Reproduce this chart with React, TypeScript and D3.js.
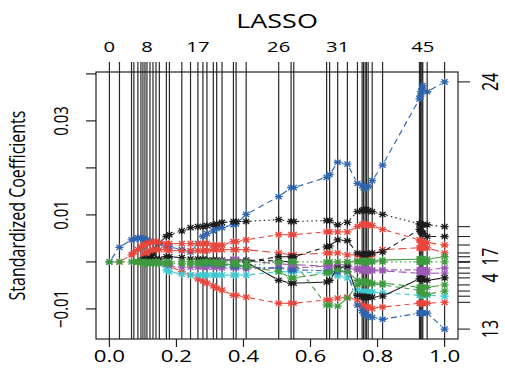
import React from 'react';
import * as d3 from 'd3';

// lars steps (|beta| / max|beta|)
const steps = [0, 0.030, 0.066, 0.073, 0.085, 0.094, 0.100, 0.106, 0.112, 0.121, 0.130, 0.139,
  0.149, 0.170, 0.179, 0.216, 0.242, 0.264, 0.279, 0.291, 0.310, 0.320, 0.336, 0.370, 0.378,
  0.408, 0.505, 0.542, 0.550, 0.648, 0.657, 0.681, 0.710, 0.740, 0.754, 0.758, 0.763, 0.767,
  0.772, 0.784, 0.815, 0.925, 0.928, 0.930, 0.933, 0.935, 0.948, 1.000];
const topLabelSteps = [0, 8, 17, 26, 31, 45];
const xTicks = [0, 0.2, 0.4, 0.6, 0.8, 1.0];
const yTicks = [-10, 0, 10, 20, 30, 40]; // in 0.001
const yTickLabels = ['\u22120.01', '', '0.01', '', '0.03', ''];

// coefficient paths in units of 0.001, each listed from the step given as its start
const blueTop = [0, 3.1, 4.7, 4.9, 5.1, 5.1, 4.9, 4.7, 4.7, 4.5, 4.3, 4.1, 3.9, 3.4, 3.2, 2.6, 2.1,
  3.9, 5.4, 6.0, 6.6, 7.1, 7.3, 7.9, 8.1, 10.1, 13.9, 15.8, 15.8, 18.0, 18.6, 21.2, 20.8, 16.7,
  16.3, 15.8, 15.8, 15.8, 16.1, 17.3, 20.6, 34.7, 35.3, 36.2, 36.8, 37.5, 36.2, 38.3];
const blackA = [0, 0.9, 1.7, 2.8, 4.1, 5.4, 5.8, 6.6, 7.3, 7.5, 7.5, 7.7, 7.9, 8.1, 8.4, 8.6, 8.6,
  8.6, 9.0, 8.6, 8.6, 8.8, 8.8, 7.9, 8.4, 10.7, 10.9, 11.1, 11.1, 11.1, 10.9, 10.7, 10.1, 8.1,
  8.1, 7.9, 7.9, 7.9, 7.9, 7.5]; // from 8
const redA = [0, 1.5, 2.1, 2.6, 3.2, 3.4, 3.6, 3.9, 4.1, 4.3, 4.3, 4.1, 3.9, 3.9, 3.9, 3.9, 3.9,
  3.9, 3.9, 3.6, 3.6, 3.6, 4.3, 4.3, 4.7, 5.8, 5.8, 5.8, 6.4, 6.4, 6.4, 6.4, 7.5, 7.9, 8.1, 8.1,
  7.9, 7.9, 7.7, 6.9, 4.7, 4.5, 4.3, 4.3, 4.1, 4.1, 3.6]; // from 1
const redB = [0, 0.9, 1.5, 1.9, 2.4, 2.6, 2.6, 2.6, 2.6, 2.4, 2.4, 2.4, 2.4, 2.4, 2.4, 2.6, 2.6,
  2.6, 2.6, 2.6, 2.6, 1.9, 1.5, 1.5, 1.9, 1.9, 1.9, 1.5, 1.5, 1.3, 1.3, 1.3, 1.3, 1.5, 1.5, 2.6,
  3.0, 3.0, 3.0, 3.0, 3.0, 3.0, 1.9]; // from 5
const redC = [0, -0.4, -0.9, -2.1, -2.8, -3.6, -4.1, -4.5, -5.1, -5.6, -6.0, -7.1, -7.1, -7.5,
  -8.8, -8.8, -8.8, -8.1, -8.1, -7.7, -7.5, -8.1, -9.2, -9.6, -9.6, -9.6, -9.6, -9.9, -9.6, -8.8,
  -8.8, -8.8, -8.8, -8.8, -8.8, -8.6]; // from 12
const blackM = [0, 0.2, 0.4, 0.6, 0.6, 0.6, 0.6, 0.6, 0.6, 1.1, 1.1, 0.9, 0.6, 0.6, 0.6, 0.4, 0.4,
  0.4, 0.4, 0.4, 0.4, 0.4, 0.2, 0]; // from 4
const purpleA = [0, -0.2, -0.6, -0.9, -1.1, -1.1, -1.1, -1.1, -1.1, -1.1, -1.1, -1.3, -1.3, -1.3,
  -1.5, -1.3, -1.3, -1.3, -0.9, -0.9, -0.6, -0.6, -1.3, -1.5, -1.5, -1.5, -1.5, -1.5, -1.7, -1.7,
  -1.7, -1.7, -1.7, -1.7, -1.7, -1.7, -1.3]; // from 11
const cyanA = [0, -0.4, -1.7, -2.1, -2.6, -2.8, -2.8, -2.8, -2.8, -2.8, -2.8, -2.8, -2.8, -2.8,
  -2.8, -2.1, -2.1, -2.1, -2.4, -2.4, -3.0, -3.4, -6.0, -6.4, -6.4, -6.4, -6.4, -6.4, -6.4, -6.6,
  -7.1, -7.1, -7.1, -7.1, -7.1, -7.1, -7.3]; // from 11
const greenE = [0, -0.2, -0.2, -0.4, -0.4, -0.4, -0.4, -0.4, -0.4, -0.4, -0.4, -0.4, -0.4, -0.4,
  -0.4, -0.4, -0.4, -0.4, -0.6, -0.6, -0.6, -0.9, 0]; // from 4
const blueB = [0, -0.2, -0.4, -0.4, -0.6, -0.9, -0.9, -1.1, -1.3, -1.7, -1.7, -1.9, -1.9, -2.1,
  -2.1, -9.2, -10.3, -10.9, -11.1, -11.3, -11.6, -11.8, -12.2, -10.9, -10.9, -10.9, -10.9, -10.9,
  -10.9, -14.3]; // from 18
const purpleB = [0, 0.2, 0.6, 0.6, 0.2, -0.4, -0.6, -0.6, -0.9, -0.9, -1.1, -1.3, -1.7, -1.9, -1.9,
  -1.9, -1.9, -1.9, -1.9, -1.9, -2.4, -2.4, -2.4, -2.4, -2.4, -2.4, -2.4]; // from 21
const blackB = [0, 1.1, 1.1, 1.1, 3.2, 3.4, 4.7, 4.5, 1.9, 1.7, 1.5, 1.5, 1.7, 1.7, 1.9, 2.1, 6.9,
  6.6, 6.4, 6.2, 6.0, 5.4, 5.4]; // from 25
const blackC = [0, -3.9, -4.5, -4.5, -4.3, -3.9, -1.3, -0.9, -7.1, -7.3, -7.5, -7.5, -7.5, -7.5,
  -7.5, -7.3, -3.6, -3.6, -3.6, -3.6, -3.6, -3.9, -3.4]; // from 25
const greenB = [0, -0.2, -0.4, -0.4, -0.6, -0.6, -0.9, -2.1, -3.4, -3.4, -2.4, -2.1, -1.7, -2.1,
  -3.9, -4.3, -4.3, -4.3, -4.3, -4.3, -4.5, -4.5, -5.4, -5.4, -5.4, -5.4, -5.4, -5.4, -4.9]; // from 19
const greenC = [0, -9.2, -9.2, -9.4, -7.7, -4.9, -4.5, -4.3, -4.3, -4.5, -4.5, -4.7, -4.9, -6.0,
  -6.2, -6.4, -6.6, -6.9, -6.9, -6.2]; // from 28
const greenD = [0, 0.2, 0.2, 0.2, 0.2, 0.2, 0.2, 0.2, 0.4, 0.6, 0.6, 0.6, 0.6, 0.6, 0.6, 1.1]; // from 32
const greenZ: number[] = []; // never enters

const BLACK = '#1c1c1c', RED = '#e8463c', GREEN = '#3f9a3f', BLUE = '#2f64ad', CYAN = '#3ec8cf', PURPLE = '#9b5bb5';

interface Path { start: number; vals: number[]; color: string; dash: string; label?: string; }

const paths: Path[] = [
  { start: 0, vals: blueTop, color: BLUE, dash: '6,4', label: '24' },
  { start: 8, vals: blackA, color: BLACK, dash: '1.5,3' },
  { start: 1, vals: redA, color: RED, dash: '5,4' },
  { start: 5, vals: redB, color: RED, dash: '8,4' },
  { start: 12, vals: redC, color: RED, dash: '5,4' },
  { start: 4, vals: blackM, color: BLACK, dash: '5,4' },
  { start: 11, vals: purpleA, color: PURPLE, dash: '1.5,3,6,3' },
  { start: 11, vals: cyanA, color: CYAN, dash: '5,4' },
  { start: 4, vals: greenE, color: GREEN, dash: '1.5,3' },
  { start: 18, vals: blueB, color: BLUE, dash: '1.5,3,6,3', label: '13' },
  { start: 21, vals: purpleB, color: PURPLE, dash: '8,4' },
  { start: 25, vals: blackB, color: BLACK, dash: '5,4' },
  { start: 25, vals: blackC, color: BLACK, dash: '', label: '4' },
  { start: 19, vals: greenB, color: GREEN, dash: '8,4' },
  { start: 28, vals: greenC, color: GREEN, dash: '5,4' },
  { start: 32, vals: greenD, color: GREEN, dash: '', label: '17' },
  { start: 0, vals: greenZ, color: GREEN, dash: '1.5,3' },
];

const full = (p: Path) => steps.map((_, i) => {
  const k = i - p.start;
  return k >= 0 && k < p.vals.length ? p.vals[k] : 0;
});

const L = 96, R = 458, T = 72, B = 339;
const SX = 1.35; // the picture is stretched horizontally
const FONT = "'Open Sans', 'DejaVu Sans', sans-serif";

const star = (x: number, y: number) =>
  `M${x - 4},${y}H${x + 4}M${x},${y - 3.5}V${y + 3.5}M${x - 3},${y - 2.6}L${x + 3},${y + 2.6}M${x - 3},${y + 2.6}L${x + 3},${y - 2.6}`;

const App: React.FC = () => {
  const series = paths.map(full);
  const all = series.flat();
  const [lo, hi] = d3.extent(all) as [number, number];
  const pad = (hi - lo) * 0.04;
  const x = d3.scaleLinear().domain([-0.04, 1.04]).range([L, R]);
  const y = d3.scaleLinear().domain([lo - pad, hi + pad]).range([B, T]);

  const hText = (tx: number, ty: number, s: string, size: number, key?: string | number) => (
    <text key={key} transform={`translate(${tx},${ty}) scale(${SX},1)`} textAnchor="middle"
      fontSize={size} fontFamily={FONT} fill="#000">{s}</text>
  );
  const vText = (tx: number, ty: number, s: string, size: number, key?: string | number) => (
    <text key={key} transform={`translate(${tx},${ty}) scale(${SX},1) rotate(-90)`} textAnchor="middle"
      fontSize={size} fontFamily={FONT} fill="#000">{s}</text>
  );

  const gap = 4;
  return (
    <svg width={505} height={384} style={{ position: 'absolute', left: 0, top: 0, background: '#fff' }}>
      {/* step lines */}
      {steps.map((s, i) => (
        <line key={'v' + i} x1={x(s)} x2={x(s)} y1={T - 10} y2={B} stroke="#2a2a2a" strokeWidth={1.2} />
      ))}
      {/* paths */}
      {paths.map((p, pi) => {
        const v = series[pi];
        const always = p.vals.length === 0;
        const segs: JSX.Element[] = [];
        const pts: JSX.Element[] = [];
        for (let i = 0; i < v.length; i++) {
          const active = always || v[i] !== 0 || (i > 0 && v[i - 1] !== 0) || (i < v.length - 1 && v[i + 1] !== 0);
          if (active) pts.push(<path key={'p' + i} d={star(x(steps[i]), y(v[i]))} />);
          if (i < v.length - 1 && (always || v[i] !== 0 || v[i + 1] !== 0)) {
            const x1 = x(steps[i]), y1 = y(v[i]), x2 = x(steps[i + 1]), y2 = y(v[i + 1]);
            const len = Math.hypot(x2 - x1, y2 - y1);
            if (len > 2 * gap + 1) {
              const ux = (x2 - x1) / len, uy = (y2 - y1) / len;
              segs.push(<line key={'s' + i} x1={x1 + ux * gap} y1={y1 + uy * gap} x2={x2 - ux * gap} y2={y2 - uy * gap}
                strokeDasharray={p.dash || undefined} />);
            }
          }
        }
        return (
          <g key={'path' + pi} stroke={p.color} fill="none">
            <g strokeWidth={1.1}>{segs}</g>
            <g strokeWidth={1.3}>{pts}</g>
          </g>
        );
      })}
      {/* box */}
      <rect x={L} y={T} width={R - L} height={B - T} fill="none" stroke="#222" strokeWidth={1.2} />
      {/* bottom axis */}
      {xTicks.map((t, i) => (
        <g key={'xt' + i}>
          <line x1={x(t)} x2={x(t)} y1={B} y2={B + 8} stroke="#222" strokeWidth={1.2} />
          {hText(x(t), 362, d3.format('.1f')(t), 16.5)}
        </g>
      ))}
      {/* left axis */}
      {yTicks.map((t, i) => (
        <g key={'yt' + i}>
          <line x1={L - 10} x2={L} y1={y(t)} y2={y(t)} stroke="#222" strokeWidth={1.2} />
          {yTickLabels[i] && vText(68, y(t), yTickLabels[i], 15)}
        </g>
      ))}
      {/* top axis labels */}
      {topLabelSteps.map(k => hText(x(steps[k]), 52, String(k), 15, 'tl' + k))}
      {/* right axis */}
      {paths.map((p, pi) => {
        const v = series[pi][steps.length - 1];
        return (
          <g key={'rt' + pi}>
            <line x1={R} x2={R + 12} y1={y(v)} y2={y(v)} stroke="#222" strokeWidth={1.1} />
            {p.label && vText(498, y(v), p.label, 16)}
          </g>
        );
      })}
      {hText((L + R) / 2, 28, 'LASSO', 20)}
      {vText(25, (T + B) / 2, 'Standardized Coefficients', 16)}
    </svg>
  );
};

export default App;
